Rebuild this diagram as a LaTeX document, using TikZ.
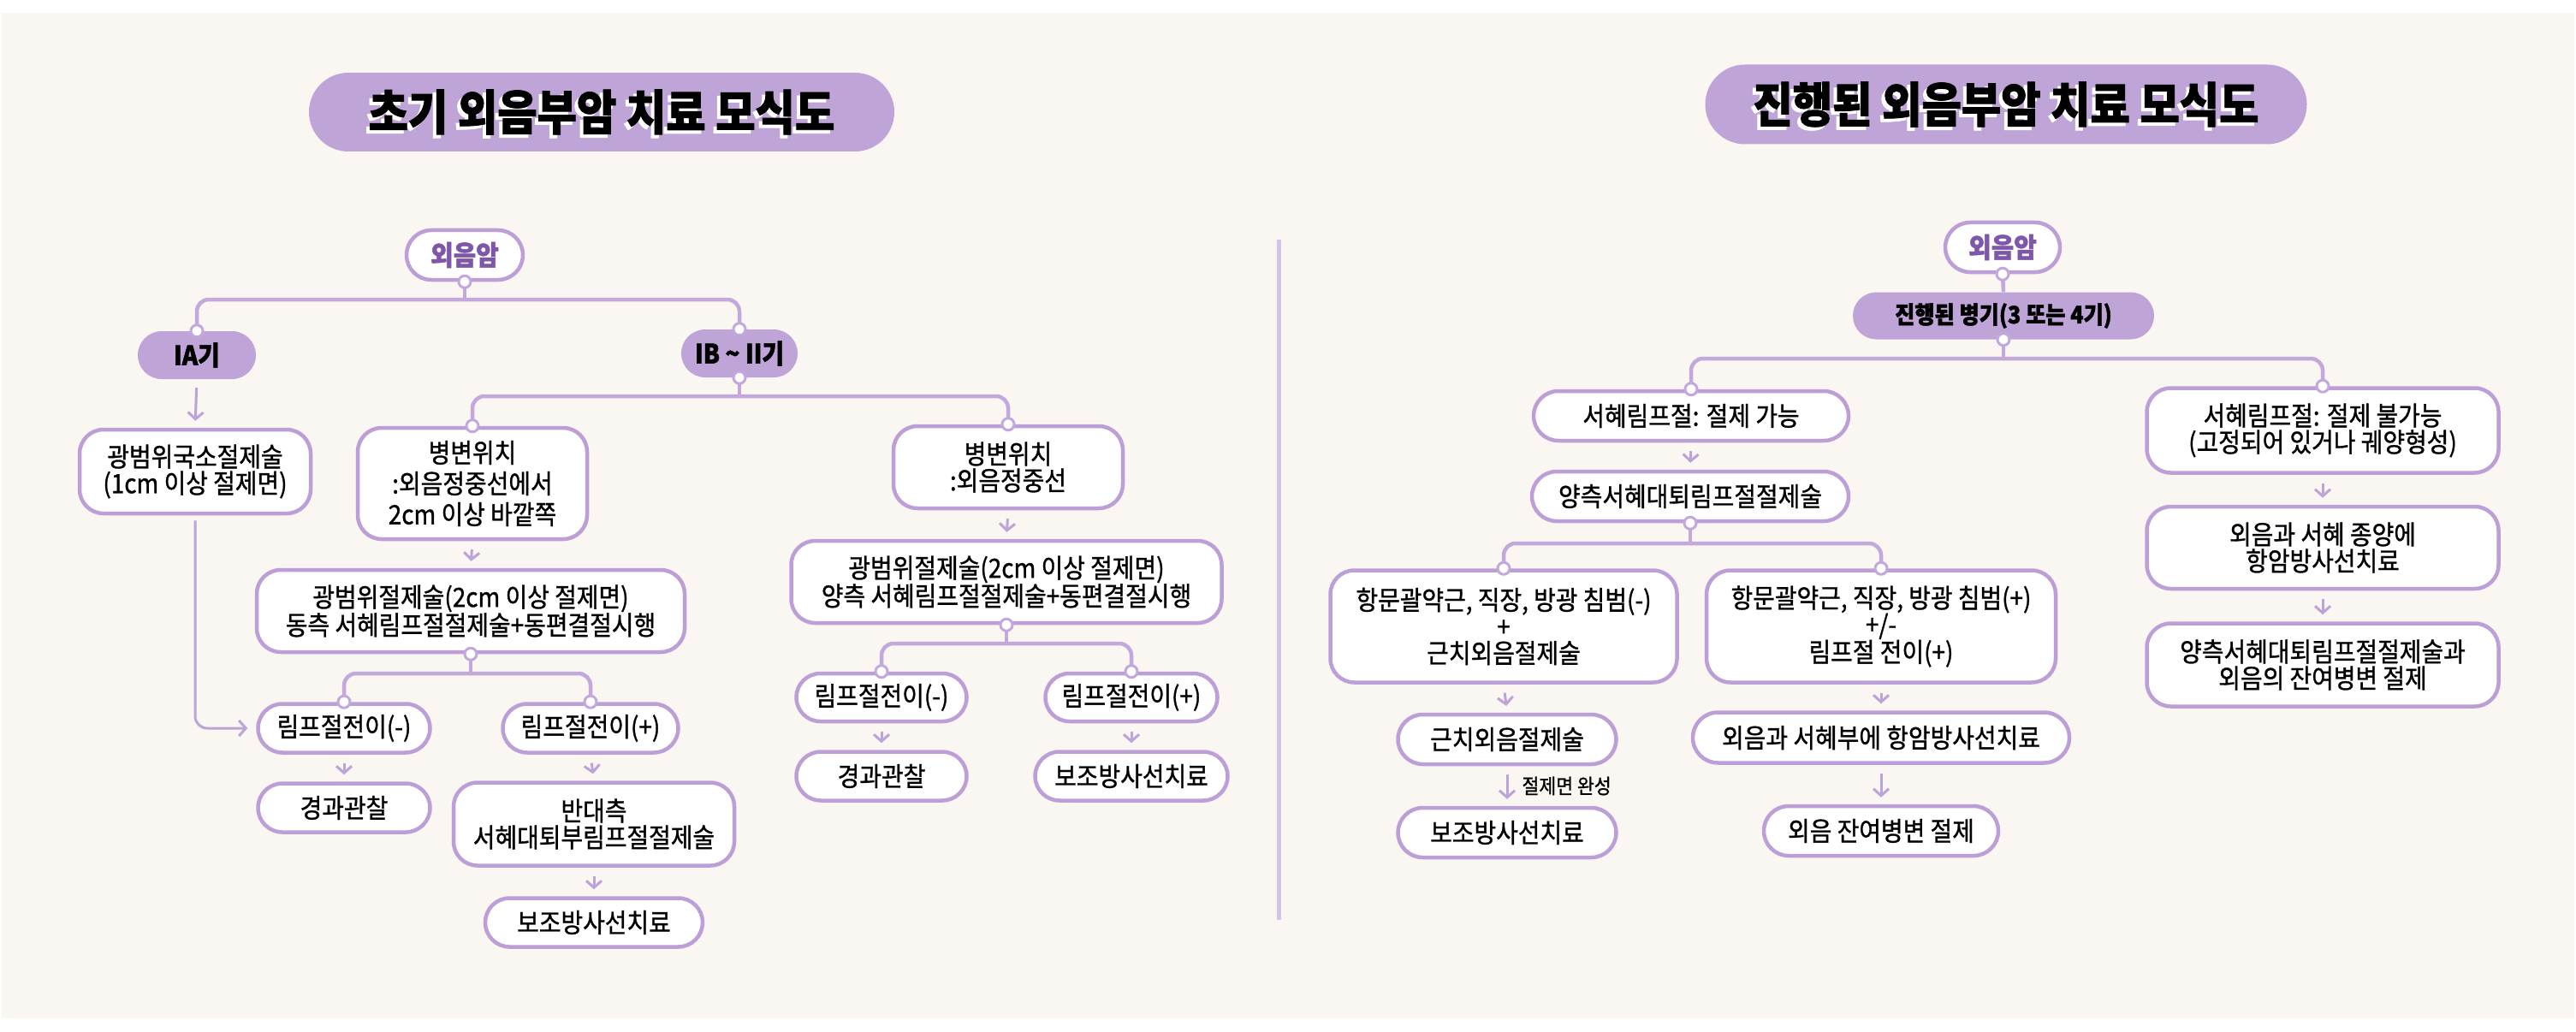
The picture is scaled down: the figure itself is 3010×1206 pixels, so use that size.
\documentclass[tikz,border=0pt]{standalone}
\usepackage{fontspec}
\setmainfont{Noto Sans CJK KR}[FakeStretch=0.9, UprightFeatures={FakeBold=1.0}, BoldFeatures={FakeBold=1.6}]
\usetikzlibrary{arrows.meta,shapes.misc,calc}
\definecolor{bgc}{HTML}{FAF6F1}
\definecolor{pillc}{HTML}{BFA4D7}
\definecolor{bdc}{HTML}{BC9FD6}
\definecolor{lnc}{HTML}{C2A8DD}
\definecolor{arc}{HTML}{BCA3DA}
\definecolor{dvc}{HTML}{D3C4EA}
\definecolor{rtc}{HTML}{7E56AA}
\tikzset{
 base/.style={align=center, inner sep=0pt, text=black, font=\fontsize{31}{31}\selectfont},
 boxw/.style={base, draw=bdc, line width=4.5pt, fill=white, rounded corners=28pt},
 pillw/.style={base, rounded rectangle, draw=bdc, line width=4.5pt, fill=white},
 pillp/.style={base, rounded rectangle, fill=pillc, font=\fontsize{31}{32}\selectfont\bfseries},
 rootn/.style={pillw, text=rtc, font=\fontsize{32}{33}\selectfont\bfseries},
 conn/.style={draw=lnc, line width=4.5pt},
 arr/.style={draw=arc, line width=3pt, -{Straight Barb[length=8pt,width=18pt]}, shorten <=10pt, shorten >=8pt},
 ring/.style={draw=lnc, fill=white, line width=3pt},
 titlep/.style={rounded rectangle, fill=pillc, inner sep=0pt},
 titlet/.style={font=\fontsize{56}{58}\selectfont\bfseries, inner sep=0pt},
 lab/.style={font=\fontsize{24}{26}\selectfont, inner sep=0pt, anchor=west},
}
\newcommand\jring[1]{\draw[ring] (#1) circle[radius=7];}
\begin{document}
\begin{tikzpicture}[x=1pt,y=-1pt]
\useasboundingbox (0,0) rectangle (3010,1206);
\fill[white] (0,0) rectangle (3010,1206);
\fill[bgc] (2,15) rectangle (3008,1190);
% titles
\node[titlep, minimum width=684, minimum height=92] (ltp) at (703,131) {};
\node[titlet, text=white] (lts) at (699,135) {초기 외음부암 치료 모식도};
\node[titlet, text=black] (ltt) at (703,131) {초기 외음부암 치료 모식도};
\node[titlep, minimum width=703, minimum height=93] (rtp) at (2344,122) {};
\node[titlet, text=white] (rts) at (2340,126) {진행된 외음부암 치료 모식도};
\node[titlet, text=black] (rtt) at (2344,122) {진행된 외음부암 치료 모식도};
% divider
\draw[dvc, line width=5pt] (1494,280) -- (1494,1075);
% ---------- left tree ----------
\node[rootn, minimum width=136, minimum height=58] (lroot) at (543,298) {외음암};
\node[pillp, minimum width=138, minimum height=56] (lia) at (230,415) {IA기};
\node[pillp, minimum width=136, minimum height=56] (lib) at (864,413) {IB \textasciitilde{} II기};
\node[boxw, minimum width=270, minimum height=98] (lwide) at (228,551) {광범위국소절제술\\(1cm 이상 절제면)};
\node[boxw, minimum width=268, minimum height=130, font=\fontsize{31}{36}\selectfont] (lloc1) at (552,565) {병변위치\\:외음정중선에서\\2cm 이상 바깥쪽};
\node[boxw, minimum width=500, minimum height=96] (lres1) at (550,714) {광범위절제술(2cm 이상 절제면)\\동측 서혜림프절절제술+동편결절시행};
\node[pillw, minimum width=201, minimum height=57] (ln1) at (402,851) {림프절전이(-)};
\node[pillw, minimum width=205, minimum height=57] (lp1) at (690,851) {림프절전이(+)};
\node[pillw, minimum width=201, minimum height=57] (lobs1) at (402,944) {경과관찰};
\node[boxw, minimum width=328, minimum height=97] (lcontra) at (694,963) {반대측\\서혜대퇴부림프절절제술};
\node[pillw, minimum width=254, minimum height=57] (lrad1) at (694,1078) {보조방사선치료};
\node[boxw, minimum width=268, minimum height=96] (lloc2) at (1178,546) {병변위치\\:외음정중선};
\node[boxw, minimum width=503, minimum height=96] (lres2) at (1176,680) {광범위절제술(2cm 이상 절제면)\\양측 서혜림프절절제술+동편결절시행};
\node[pillw, minimum width=199, minimum height=56] (ln2) at (1030,815) {림프절전이(-)};
\node[pillw, minimum width=201, minimum height=56] (lp2) at (1322,815) {림프절전이(+)};
\node[pillw, minimum width=199, minimum height=57] (lobs2) at (1030,907) {경과관찰};
\node[pillw, minimum width=225, minimum height=57] (lrad2) at (1322,907) {보조방사선치료};
% left connectors
\coordinate (lbA) at (0,350);
\coordinate (lbB) at (0,463);
\coordinate (lbC) at (0,787);
\coordinate (lbD) at (0,752);
\draw[conn] (lroot.south) -- (lroot.south |- lbA);
\draw[conn, rounded corners=14pt] (lia.north) |- (lib.north |- lbA) -- (lib.north);
\draw[conn] (lib.south) -- (lib.south |- lbB);
\draw[conn, rounded corners=14pt] (lloc1.north) |- (lloc2.north |- lbB) -- (lloc2.north);
\draw[conn] (lres1.south) -- (lres1.south |- lbC);
\draw[conn, rounded corners=14pt] (ln1.north) |- (lp1.north |- lbC) -- (lp1.north);
\draw[conn] (lres2.south) -- (lres2.south |- lbD);
\draw[conn, rounded corners=14pt] (ln2.north) |- (lp2.north |- lbD) -- (lp2.north);
\draw[arr] (lia.south) -- (lwide.north);
\draw[arr, shorten <=6pt, shorten >=10pt, rounded corners=14pt] (lwide.south) |- (ln1.west);
\draw[arr] (lloc1.south) -- (lres1.north);
\draw[arr] (lloc2.south) -- (lres2.north);
\draw[arr] (ln1.south) -- (lobs1.north);
\draw[arr] (lp1.south) -- (lcontra.north);
\draw[arr] (lcontra.south) -- (lrad1.north);
\draw[arr] (ln2.south) -- (lobs2.north);
\draw[arr] (lp2.south) -- (lrad2.north);
\jring{lroot.south}\jring{lia.north}\jring{lib.north}\jring{lib.south}
\jring{lloc1.north}\jring{lloc2.north}\jring{lres1.south}\jring{ln1.north}\jring{lp1.north}
\jring{lres2.south}\jring{ln2.north}\jring{lp2.north}
% ---------- right tree ----------
\node[rootn, minimum width=134, minimum height=58] (rroot) at (2340,289) {외음암};
\node[pillp, minimum width=352, minimum height=55, font=\fontsize{28}{30}\selectfont\bfseries] (rstage) at (2341,369) {진행된 병기(3 또는 4기)};
\node[pillw, minimum width=368, minimum height=58] (rok) at (1976,486) {서혜림프절: 절제 가능};
\node[pillw, minimum width=370, minimum height=58] (rbil) at (1975,580) {양측서혜대퇴림프절절제술};
\node[boxw, minimum width=405, minimum height=131] (rneg) at (1757,732) {항문괄약근, 직장, 방광 침범(-)\\+\\근치외음절제술};
\node[boxw, minimum width=408, minimum height=131] (rpos) at (2198,732) {항문괄약근, 직장, 방광 침범(+)\\+/-\\림프절 전이(+)};
\node[pillw, minimum width=255, minimum height=58] (rrad) at (1761,864) {근치외음절제술};
\node[pillw, minimum width=255, minimum height=58] (radj) at (1761,973) {보조방사선치료};
\node[pillw, minimum width=440, minimum height=59] (rcrt) at (2198,862) {외음과 서혜부에 항암방사선치료};
\node[pillw, minimum width=274, minimum height=58] (rres) at (2198,971) {외음 잔여병변 절제};
\node[boxw, minimum width=411, minimum height=99] (rno) at (2714,503) {서혜림프절: 절제 불가능\\(고정되어 있거나 궤양형성)};
\node[boxw, minimum width=411, minimum height=96] (rcrt2) at (2714,640) {외음과 서혜 종양에\\항암방사선치료};
\node[boxw, minimum width=411, minimum height=97] (rfin) at (2714,777) {양측서혜대퇴림프절절제술과\\외음의 잔여병변 절제};
% right connectors
\coordinate (rbA) at (0,419);
\coordinate (rbB) at (0,635);
\draw[conn] (rroot.south) -- (rstage.north);
\draw[conn] (rstage.south) -- (rstage.south |- rbA);
\draw[conn, rounded corners=14pt] (rok.north) |- (rno.north |- rbA) -- (rno.north);
\draw[conn] (rbil.south) -- (rbil.south |- rbB);
\draw[conn, rounded corners=14pt] (rneg.north) |- (rpos.north |- rbB) -- (rpos.north);
\draw[arr] (rok.south) -- (rbil.north);
\draw[arr] (rneg.south) -- (rrad.north);
\draw[arr] (rrad.south) -- node[lab, xshift=16pt] (rcut) {절제면 완성} (radj.north);
\draw[arr] (rpos.south) -- (rcrt.north);
\draw[arr] (rcrt.south) -- (rres.north);
\draw[arr] (rno.south) -- (rcrt2.north);
\draw[arr] (rcrt2.south) -- (rfin.north);
\jring{rroot.south}\jring{rstage.south}\jring{rok.north}\jring{rno.north}
\jring{rbil.south}\jring{rneg.north}\jring{rpos.north}
\end{tikzpicture}
\end{document}
